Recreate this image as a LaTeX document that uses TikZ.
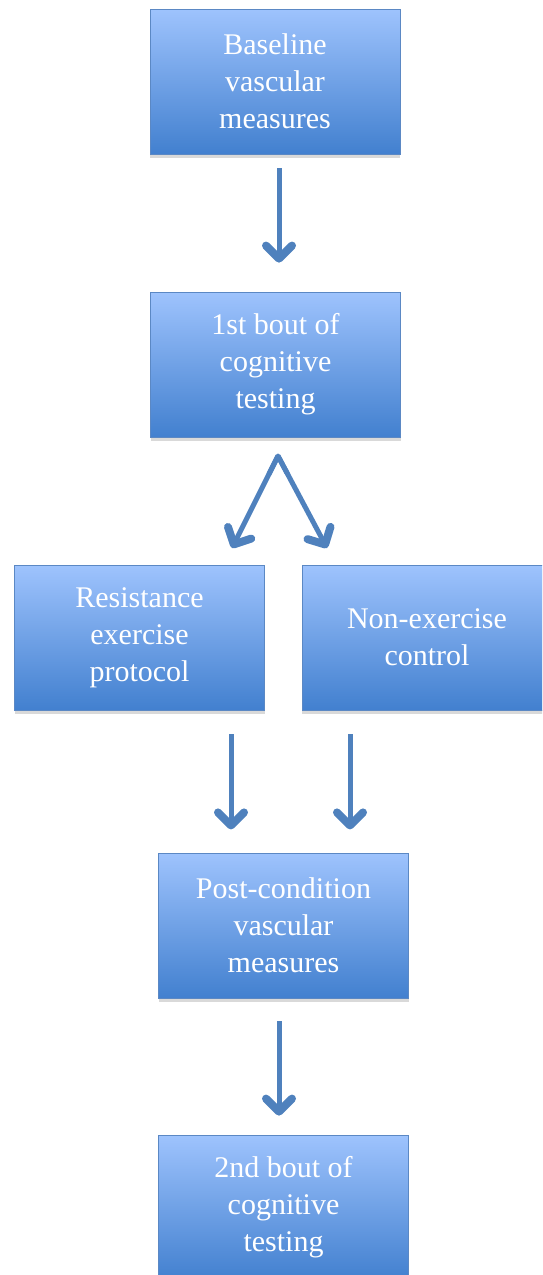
\documentclass[tikz,border=0pt]{standalone}
\usepackage{fontspec}
\setmainfont{Liberation Serif}
\usetikzlibrary{calc}
\usetikzlibrary{arrows.meta}
\usetikzlibrary{shadows}
\definecolor{boxtop}{HTML}{9EC3FD}
\definecolor{boxbottom}{HTML}{4280CF}
\definecolor{boxline}{HTML}{5B88C4}
\definecolor{arrowblue}{HTML}{4F81BD}
\tikzstyle{stagebox}=[rectangle,draw=boxline,line width=0.8pt,top color=boxtop,bottom color=boxbottom,minimum width=250pt,minimum height=145pt,inner sep=0pt,align=center,text=white,font=\fontsize{30}{37}\selectfont,drop shadow={shadow xshift=0pt,shadow yshift=-4pt,opacity=0.3}]
\tikzstyle{flowarrow}=[draw=arrowblue,line width=5pt,-{Straight Barb[length=13pt,width=26pt,round,line width=0pt 1.6]}]

\begin{document}
\begin{tikzpicture}[x=1pt,y=-1pt]
\useasboundingbox (0,0) rectangle (542,1275);
\clip (0,0) rectangle (542,1275);
\node[stagebox] (baseline) at (275,81.5) {Baseline\\vascular\\measures};
\node[stagebox] (bout1) at (275.5,364.5) {1st bout of\\cognitive\\testing};
\node[stagebox] (resist) at (139.5,637.5) {Resistance\\exercise\\protocol};
\node[stagebox] (control) at (427,637.5) {Non-exercise\\control};
\node[stagebox] (post) at (283.5,925.5) {Post-condition\\vascular\\measures};
\node[stagebox] (bout2) at (283.5,1207.5) {2nd bout of\\cognitive\\testing};
% arrow ends
\coordinate (split) at (278,456);
\coordinate (leftend) at (232,548);
\coordinate (rightend) at (327,548);
\coordinate (resistdown) at ([xshift=91.5pt,yshift=-119pt]resist.south);
\coordinate (controldown) at ([xshift=-77pt,yshift=-119pt]control.south);
\draw[flowarrow,shorten <=14pt,shorten >=29pt] ([xshift=4pt]baseline.south) -- ([xshift=3.5pt]bout1.north);
\draw[flowarrow,line cap=round,line join=round,-] ($(split)!20pt!(leftend)$) -- (split) -- ($(split)!20pt!(rightend)$);
\draw[flowarrow] (split) -- (leftend);
\draw[flowarrow] (split) -- (rightend);
\draw[flowarrow,shorten <=24pt] ([xshift=91.5pt]resist.south) -- (resistdown);
\draw[flowarrow,shorten <=24pt] ([xshift=-77pt]control.south) -- (controldown);
\draw[flowarrow,shorten <=23pt,shorten >=19pt] ([xshift=-4.5pt]post.south) -- ([xshift=-4.5pt]bout2.north);
\end{tikzpicture}
\end{document}
